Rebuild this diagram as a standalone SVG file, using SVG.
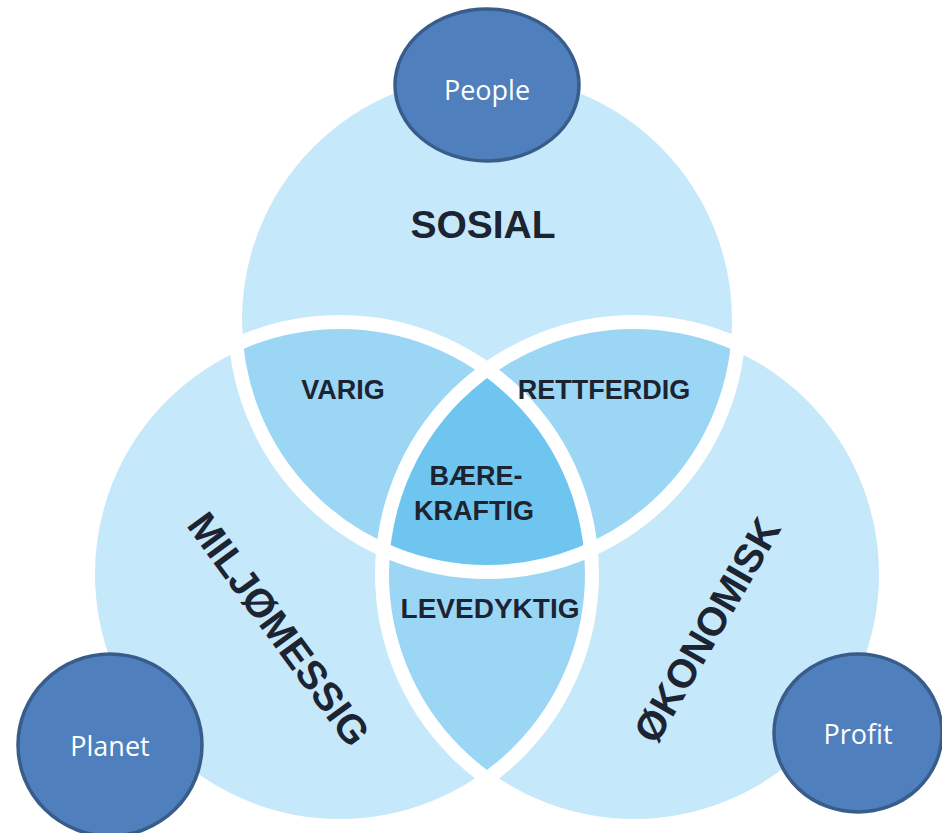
<svg xmlns="http://www.w3.org/2000/svg" width="942" height="833" viewBox="0 0 942 833">
<style>
.c1{fill:#c6e8fb}
.c2{fill:#9cd6f5}
.c3{fill:#6ec5f0}
.ring{fill:none;stroke:#ffffff;stroke-width:14}
.lbl{font-family:"Liberation Sans",Arial,sans-serif;font-weight:bold;fill:#1c2331;text-anchor:middle}
.node{fill:#4f7fbc;stroke:#385d8a;stroke-width:3.5}
.ntx{font-family:"Open Sans","Noto Sans",sans-serif;font-size:27px;fill:#ffffff;text-anchor:middle}
</style>
<defs>
<circle id="cT" cx="487" cy="320" r="252"/>
<circle id="cL" cx="340" cy="574" r="252"/>
<circle id="cR" cx="634" cy="574" r="252"/>
<clipPath id="kT"><use href="#cT"/></clipPath>
<clipPath id="kL"><use href="#cL"/></clipPath>
<clipPath id="kR"><use href="#cR"/></clipPath>
</defs>
<rect width="942" height="833" fill="#ffffff"/>
<g id="venn">
<use href="#cT" class="c1"/>
<use href="#cL" class="c1"/>
<use href="#cR" class="c1"/>
<g clip-path="url(#kT)"><use href="#cL" class="c2"/><use href="#cR" class="c2"/></g>
<g clip-path="url(#kL)"><use href="#cR" class="c2"/></g>
<g clip-path="url(#kT)"><g clip-path="url(#kL)"><use href="#cR" class="c3"/></g></g>
<use href="#cT" class="ring"/>
<use href="#cL" class="ring"/>
<use href="#cR" class="ring"/>
</g>
<g id="labels">
<text class="lbl" x="483" y="238" font-size="39">SOSIAL</text>
<text class="lbl" x="343" y="399" font-size="27">VARIG</text>
<text class="lbl" x="604" y="399" font-size="27">RETTFERDIG</text>
<text class="lbl" x="476" y="485" font-size="27">BÆRE-</text>
<text class="lbl" x="474" y="520" font-size="27">KRAFTIG</text>
<text class="lbl" x="490" y="618" font-size="28">LEVEDYKTIG</text>
<text class="lbl" font-size="40" transform="translate(279,629) rotate(53.8)" y="14">MILJØMESSIG</text>
<text class="lbl" font-size="40" transform="translate(707,630) rotate(-60)" y="14">ØKONOMISK</text>
</g>
<g id="connectors"></g>
<g id="people">
<ellipse class="node" cx="487" cy="85" rx="92" ry="76"/>
<text class="ntx" x="487" y="100">People</text>
</g>
<g id="planet">
<ellipse class="node" cx="110" cy="745" rx="92" ry="91"/>
<text class="ntx" x="110" y="756">Planet</text>
</g>
<g id="profit">
<ellipse class="node" cx="858" cy="733" rx="84" ry="79"/>
<text class="ntx" x="858" y="744">Profit</text>
</g>
</svg>
